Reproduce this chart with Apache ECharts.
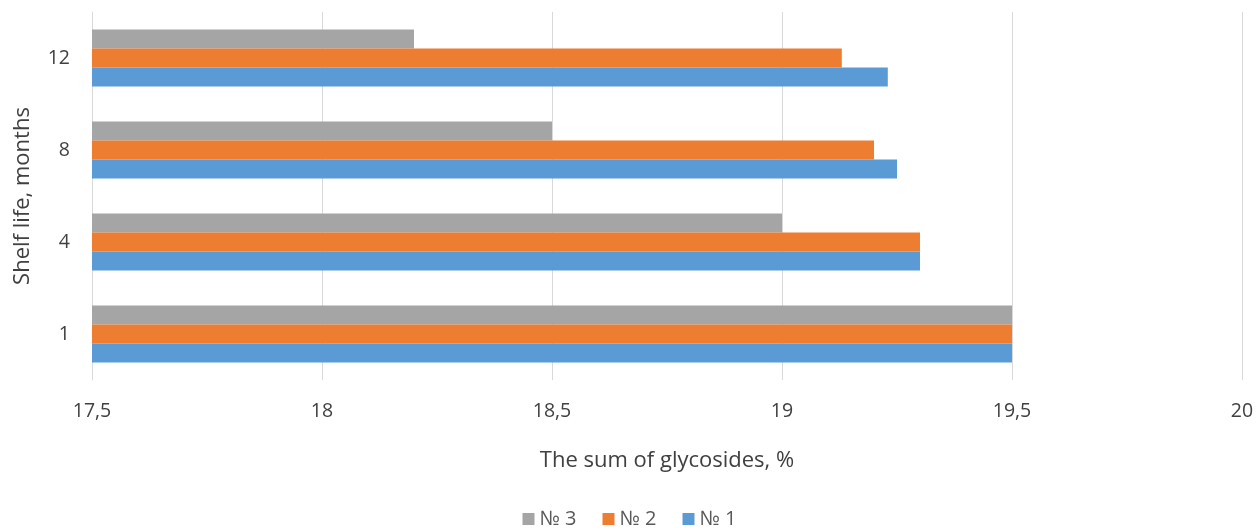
<!DOCTYPE html>
<html>
<head>
<meta charset="utf-8">
<script src="https://cdn.jsdelivr.net/npm/echarts@6/dist/echarts.min.js"></script>
<style>html,body{margin:0;padding:0;background:#fff;}#c{width:1259px;height:528px;}</style>
</head>
<body>
<div id="c"></div>
<script>
const categories = ['1', '4', '8', '12'];
const series1 = [19.5, 19.3, 19.25, 19.23];
const series2 = [19.5, 19.3, 19.2, 19.13];
const series3 = [19.5, 19.0, 18.5, 18.2];
const seriesNames = ['№ 1', '№ 2', '№ 3'];
const legendOrder = ['№ 3', '№ 2', '№ 1'];

const FONT = '"Open Sans", "Liberation Sans", sans-serif';
const chart = echarts.init(document.getElementById('c'));
const barCommon = { type: 'bar', barGap: '0%', barCategoryGap: '38%' };
chart.setOption({
  animation: false,
  textStyle: { fontFamily: FONT },
  grid: { left: 92, right: 17, top: 12, bottom: 148 },
  legend: {
    data: legendOrder,
    bottom: -6,
    left: 'center',
    itemWidth: 12,
    itemHeight: 12,
    itemGap: 26,
    icon: 'rect',
    textStyle: { fontSize: 20, color: '#595959', fontFamily: FONT }
  },
  xAxis: {
    type: 'value',
    min: 17.5,
    max: 20,
    interval: 0.5,
    name: 'The sum of glycosides, %',
    nameLocation: 'middle',
    nameGap: 70,
    nameTextStyle: { fontSize: 22, color: '#404040', fontFamily: FONT },
    axisLine: { show: false },
    axisTick: { show: false },
    axisLabel: {
      fontSize: 19.5, color: '#404040', margin: 21,
      formatter: v => String(v).replace('.', ',')
    },
    splitLine: { show: true, lineStyle: { color: '#D9D9D9', width: 1 } }
  },
  yAxis: {
    type: 'category',
    data: categories,
    name: 'Shelf life, months',
    nameLocation: 'middle',
    nameGap: 58,
    nameRotate: 90,
    nameTextStyle: { fontSize: 22, color: '#404040', fontFamily: FONT },
    axisLine: { show: true, lineStyle: { color: '#D9D9D9' } },
    axisTick: { show: false },
    axisLabel: { fontSize: 19.5, color: '#404040', margin: 22 }
  },
  series: [
    Object.assign({ name: seriesNames[2], data: series3, itemStyle: { color: '#A5A5A5' } }, barCommon),
    Object.assign({ name: seriesNames[1], data: series2, itemStyle: { color: '#ED7D31' } }, barCommon),
    Object.assign({ name: seriesNames[0], data: series1, itemStyle: { color: '#5B9BD5' } }, barCommon)
  ]
});
</script>
</body>
</html>
